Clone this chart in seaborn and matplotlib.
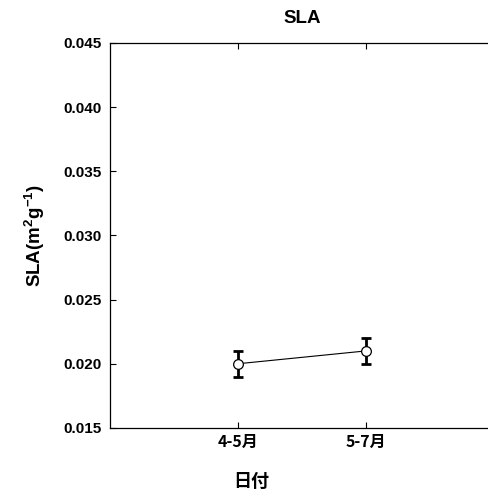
import numpy as np
import pandas as pd
import matplotlib
matplotlib.use('Agg')
import matplotlib.pyplot as plt
import seaborn as sns

categories = ['4-5月', '5-7月']
sla_mean = [0.0200, 0.0210]
sla_err = [0.0010, 0.0010]
yticks = [0.015, 0.020, 0.025, 0.030, 0.035, 0.040, 0.045]

sns.set_style('ticks')
plt.rcParams['font.family'] = ['Liberation Sans', 'Noto Sans CJK JP']
plt.rcParams['font.weight'] = 'bold'
plt.rcParams['text.color'] = 'black'
plt.rcParams['axes.labelcolor'] = 'black'
plt.rcParams['xtick.color'] = 'black'
plt.rcParams['ytick.color'] = 'black'
plt.rcParams['axes.edgecolor'] = 'black'
plt.rcParams['mathtext.fontset'] = 'custom'
plt.rcParams['mathtext.rm'] = 'Liberation Sans:bold'
plt.rcParams['mathtext.it'] = 'Liberation Sans:bold'
plt.rcParams['mathtext.bf'] = 'Liberation Sans:bold'
plt.rcParams['mathtext.default'] = 'rm'

df = pd.DataFrame({'x': [1, 2], 'SLA': sla_mean})

fig = plt.figure(figsize=(4.89, 4.97), dpi=100)
ax = fig.add_axes([0.225, 0.139, 0.785, 0.7746])

ax.errorbar(df['x'], df['SLA'], yerr=sla_err, fmt='none', ecolor='black',
            elinewidth=2, capsize=3.5, capthick=2, zorder=2)
sns.lineplot(data=df, x='x', y='SLA', ax=ax, color='black', linewidth=0.8,
             marker='o', markersize=7, markerfacecolor='white',
             markeredgecolor='black', markeredgewidth=0.9, zorder=3)

ax.set_xlim(0, 3)
ax.set_ylim(0.015, 0.045)
ax.set_yticks(yticks)
ax.set_yticklabels([f'{v:.3f}' for v in yticks], fontsize=11, fontweight='bold')
ax.set_xticks([1, 2])
ax.set_xticklabels(categories, fontsize=11.5, fontweight='bold',
                   family=['Noto Sans CJK JP'])
ax.tick_params(direction='in', top=True, right=True, length=4, width=0.8,
               pad=6)
ax.tick_params(axis='x', pad=4)
for s in ax.spines.values():
    s.set_linewidth(0.9)

ax.set_title('SLA', fontsize=13.5, fontweight='bold', pad=14)
ax.set_xlabel('日付', fontsize=13, fontweight='bold',
              family=['Noto Sans CJK JP'])
ax.set_ylabel('SLA(m$^2$g$^{-1}$)', fontsize=13.5, fontweight='bold')
ax.xaxis.set_label_coords(0.3686, -0.115)
ax.yaxis.set_label_coords(-0.165, 0.5)

fig.savefig('out.png', dpi=100)
